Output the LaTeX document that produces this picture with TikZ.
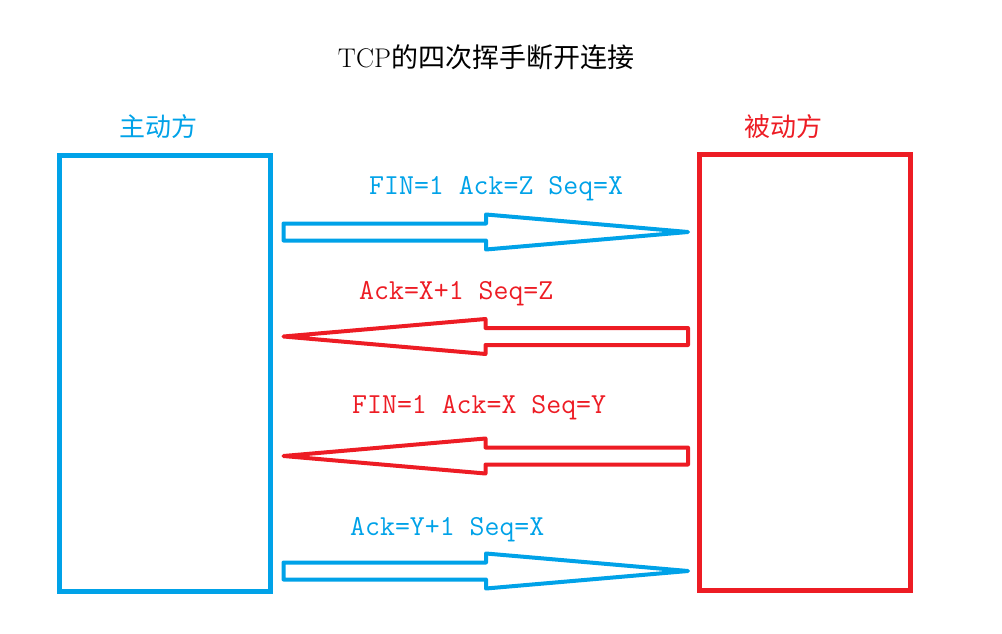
\documentclass[tikz,border=0pt]{standalone}
\usepackage{fontspec}
\usepackage{tikz}
\usetikzlibrary{calc}
\usetikzlibrary{positioning}
\newfontfamily\cjk{Noto Sans CJK SC}
\definecolor{pblue}{RGB}{0, 162, 232}
\definecolor{pred}{RGB}{237, 28, 36}
\tikzset{party/.style = {draw, line width = 5, minimum width = 210.5, minimum height = 436, inner sep = 0}}
\tikzset{role/.style = {inner sep = 0, font = \fontsize{26}{28}\selectfont\cjk}}
\tikzset{msg/.style = {inner sep = 0, anchor = base west, font = \fontsize{29}{31}\selectfont\ttfamily}}
\tikzset{packet/.style = {line width = 4, line join = round}}
\newcommand{\blockarrow}[3]{%
  \draw [packet, #1] ($(#2) + (0, -8.5)$) -- ($(#3)!202pt!(#2) + (0, -8.5)$)
    -- ($(#3)!202pt!(#2) + (0, -17.5)$) -- (#3) -- ($(#3)!202pt!(#2) + (0, 17.5)$)
    -- ($(#3)!202pt!(#2) + (0, 8.5)$) -- ($(#2) + (0, 8.5)$) -- cycle;}

\begin{document}
\begin{tikzpicture}[x = 1pt, y = -1pt]
    \useasboundingbox (0, 0) rectangle (1002, 634);
    \node [inner sep = 0, font = \fontsize{27}{29}\selectfont] (title) at (486, 57) {TCP{\cjk 的四次挥手断开连接}};

    \node [party, pblue] (active) at (164.75, 373) {};
    \node [party, pred] (passive) at (804.75, 372.5) {};
    \node [role, pblue] (activename) at (158, 127) {主动方};
    \node [role, pred] (passivename) at (783, 127) {被动方};

    \path (active.east |- 0, 232) ++(11, 0) coordinate (a1);
    \path (passive.west |- 0, 232) ++(-9, 0) coordinate (p1);
    \path (active.east |- 0, 336.5) ++(11, 0) coordinate (a2);
    \path (passive.west |- 0, 336.5) ++(-9, 0) coordinate (p2);
    \path (active.east |- 0, 456) ++(11, 0) coordinate (a3);
    \path (passive.west |- 0, 456) ++(-9, 0) coordinate (p3);
    \path (active.east |- 0, 571) ++(11, 0) coordinate (a4);
    \path (passive.west |- 0, 571) ++(-9, 0) coordinate (p4);

    \blockarrow{pblue}{a1}{p1}
    \blockarrow{pred}{p2}{a2}
    \blockarrow{pred}{p3}{a3}
    \blockarrow{pblue}{a4}{p4}

    \node [msg, pblue] (fin1) at (369, 194) {FIN=1 Ack=Z Seq=X};
    \node [msg, pred] (ack1) at (359, 299.5) {Ack=X+1 Seq=Z};
    \node [msg, pred] (fin2) at (352, 413.5) {FIN=1 Ack=X Seq=Y};
    \node [msg, pblue] (ack2) at (350, 535.5) {Ack=Y+1 Seq=X};
\end{tikzpicture}
\end{document}
